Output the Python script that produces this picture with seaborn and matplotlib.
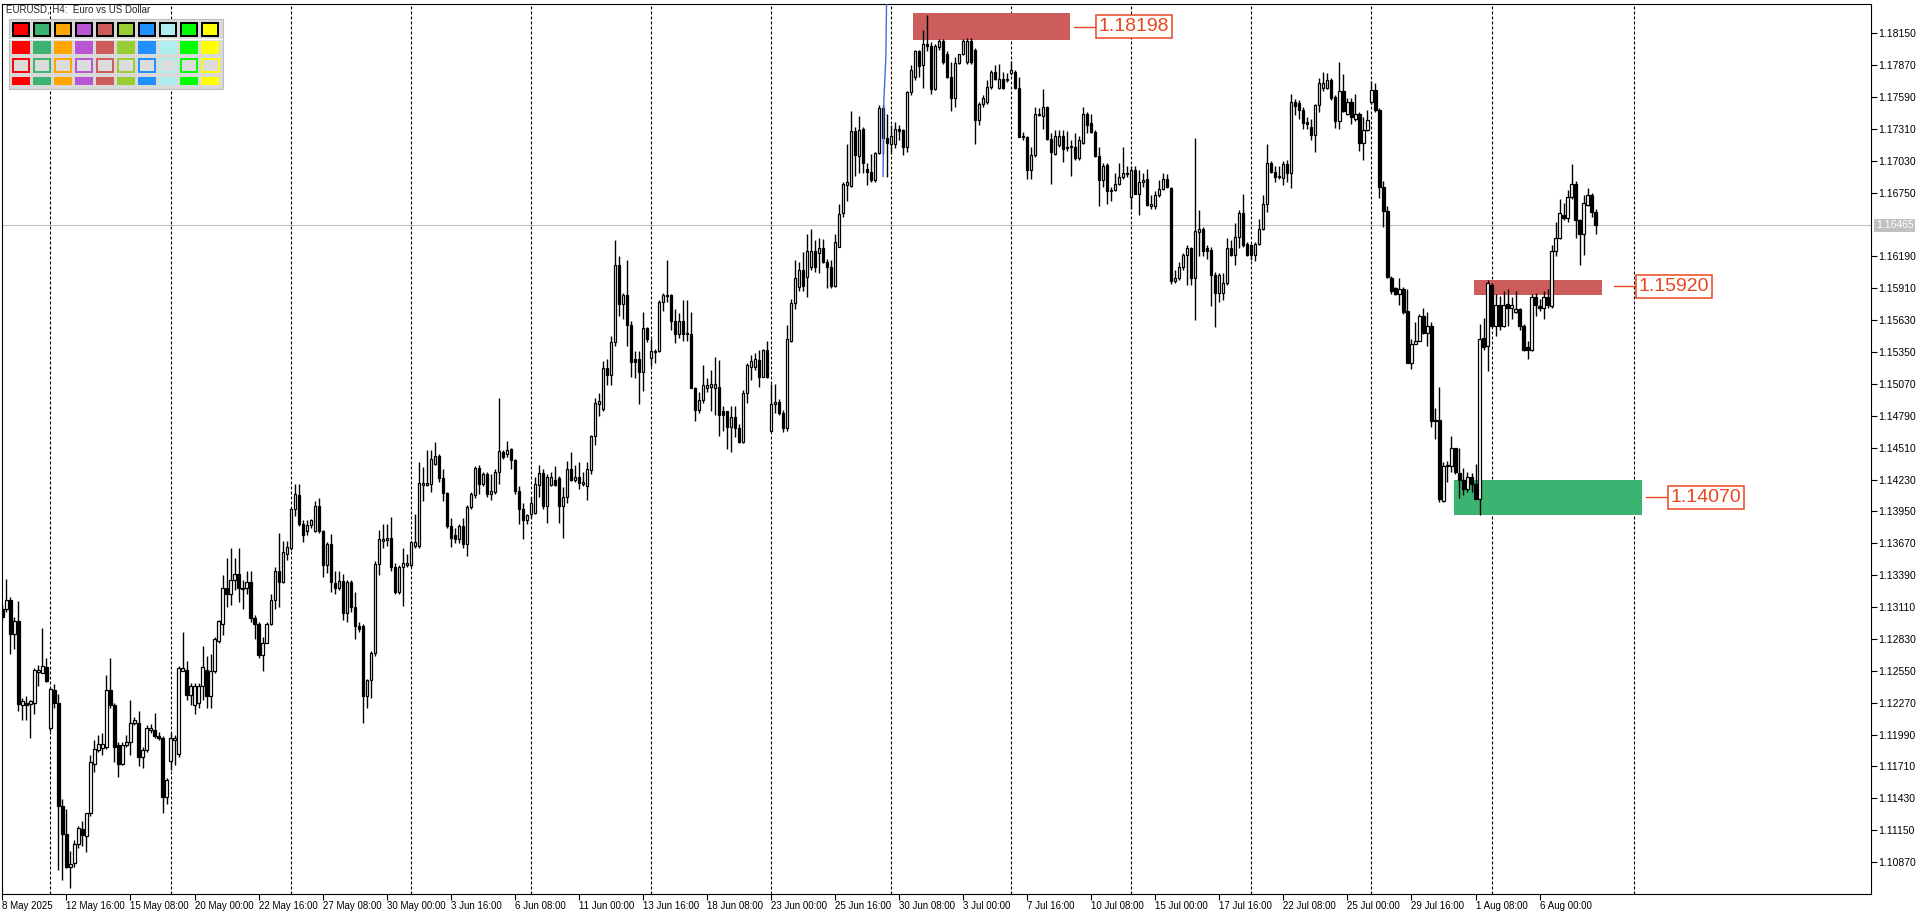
import numpy as np
import pandas as pd
import seaborn as sns
import matplotlib
matplotlib.use("Agg")
import matplotlib.pyplot as plt
import matplotlib.transforms as mtransforms
from matplotlib.patches import Rectangle

sns.set_theme(style="white")
plt.rcParams['font.family'] = ['Liberation Sans', 'DejaVu Sans']

# EURUSD H4 candles, 8 May 2025 00:00 -> 8 Aug 2025 (prices in 1/10000)
open_pips = [
    11309, 11309, 11317, 11287, 11299, 11225, 11227, 11226, 11227, 11254,
    11253, 11258, 11205, 11238, 11227, 11136, 11112, 11083, 11086, 11103,
    11116, 11110, 11130, 11173, 11185, 11187, 11188, 11238, 11225, 11190,
    11173, 11190, 11192, 11209, 11209, 11179, 11185, 11203, 11203, 11198,
    11196, 11144, 11176, 11194, 11182, 11255, 11256, 11234, 11225, 11227,
    11242, 11256, 11233, 11255, 11281, 11296, 11328, 11322, 11335, 11340,
    11328, 11328, 11333, 11301, 11296, 11269, 11279, 11296, 11317, 11343,
    11333, 11358, 11363, 11397, 11409, 11384, 11378, 11383, 11378, 11400,
    11378, 11348, 11366, 11332, 11328, 11334, 11306, 11333, 11311, 11294,
    11294, 11233, 11247, 11271, 11349, 11369, 11370, 11372, 11346, 11324,
    11346, 11348, 11348, 11365, 11365, 11418, 11418, 11419, 11437, 11444,
    11424, 11411, 11382, 11374, 11371, 11382, 11366, 11399, 11409, 11433,
    11419, 11428, 11410, 11412, 11430, 11447, 11445, 11450, 11440, 11413,
    11397, 11387, 11393, 11394, 11418, 11429, 11400, 11418, 11423, 11424,
    11400, 11408, 11432, 11423, 11425, 11419, 11417, 11431, 11461, 11489,
    11485, 11521, 11515, 11544, 11611, 11577, 11585, 11559, 11529, 11529,
    11517, 11556, 11530, 11535, 11536, 11579, 11584, 11585, 11562, 11551,
    11562, 11551, 11551, 11503, 11484, 11493, 11503, 11504, 11503, 11504,
    11483, 11483, 11469, 11478, 11468, 11456, 11499, 11522, 11522, 11528,
    11513, 11537, 11466, 11489, 11491, 11481, 11468, 11545, 11578, 11592,
    11607, 11601, 11610, 11624, 11622, 11626, 11614, 11610, 11593, 11627,
    11657, 11682, 11681, 11729, 11707, 11731, 11696, 11693, 11686, 11710,
    11749, 11723, 11718, 11718, 11731, 11730, 11715, 11763, 11777, 11799,
    11787, 11806, 11804, 11766, 11803, 11808, 11797, 11777, 11758, 11789,
    11797, 11790, 11808, 11800, 11739, 11753, 11755, 11768, 11781, 11767,
    11775, 11775, 11780, 11781, 11767, 11725, 11724, 11695, 11708, 11744,
    11742, 11750, 11722, 11709, 11717, 11725, 11714, 11715, 11715, 11705,
    11719, 11744, 11736, 11728, 11707, 11686, 11699, 11677, 11677, 11683,
    11689, 11692, 11671, 11695, 11674, 11684, 11687, 11663, 11663, 11673,
    11678, 11687, 11679, 11597, 11600, 11610, 11620, 11626, 11600, 11640,
    11643, 11626, 11625, 11603, 11587, 11587, 11596, 11626, 11620, 11636,
    11657, 11630, 11629, 11620, 11630, 11643, 11665, 11701, 11693, 11689,
    11688, 11700, 11692, 11755, 11754, 11748, 11737, 11733, 11726, 11752,
    11767, 11767, 11774, 11759, 11738, 11764, 11744, 11755, 11740, 11744,
    11719, 11730, 11755, 11765, 11748, 11680, 11659, 11600, 11591, 11586,
    11590, 11571, 11525, 11542, 11545, 11567, 11552, 11558, 11475, 11475,
    11404, 11435, 11435, 11451, 11429, 11423, 11415, 11425, 11419, 11406,
    11547, 11540, 11594, 11558, 11576, 11558, 11577, 11574, 11570, 11573,
    11558, 11539, 11537, 11583, 11575, 11574, 11583, 11575, 11624, 11635,
    11655, 11653, 11671, 11683, 11651, 11639, 11664, 11673, 11658,
]
high_pips = [
    11313, 11336, 11320, 11302, 11316, 11231, 11233, 11229, 11257, 11260,
    11293, 11266, 11240, 11243, 11235, 11142, 11134, 11097, 11106, 11119,
    11123, 11130, 11181, 11194, 11199, 11200, 11251, 11266, 11227, 11192,
    11192, 11199, 11229, 11214, 11220, 11188, 11207, 11208, 11218, 11201,
    11198, 11161, 11200, 11199, 11259, 11289, 11264, 11244, 11244, 11244,
    11277, 11268, 11270, 11285, 11300, 11339, 11354, 11363, 11354, 11363,
    11335, 11343, 11343, 11304, 11298, 11285, 11298, 11322, 11346, 11376,
    11369, 11369, 11398, 11419, 11419, 11387, 11387, 11388, 11404, 11407,
    11379, 11368, 11375, 11343, 11343, 11340, 11335, 11335, 11324, 11298,
    11296, 11248, 11272, 11351, 11379, 11384, 11384, 11390, 11350, 11348,
    11363, 11358, 11369, 11393, 11438, 11434, 11449, 11449, 11456, 11445,
    11432, 11412, 11389, 11380, 11384, 11389, 11401, 11412, 11435, 11436,
    11430, 11430, 11428, 11432, 11495, 11449, 11457, 11451, 11441, 11417,
    11402, 11393, 11408, 11425, 11436, 11432, 11428, 11430, 11435, 11426,
    11416, 11439, 11447, 11436, 11438, 11430, 11438, 11462, 11495, 11499,
    11527, 11529, 11549, 11633, 11619, 11587, 11616, 11562, 11536, 11536,
    11570, 11557, 11546, 11538, 11581, 11587, 11616, 11586, 11573, 11569,
    11581, 11581, 11570, 11504, 11500, 11524, 11512, 11519, 11531, 11528,
    11488, 11483, 11488, 11488, 11472, 11502, 11525, 11532, 11534, 11537,
    11538, 11545, 11507, 11507, 11494, 11484, 11559, 11582, 11616, 11614,
    11623, 11639, 11643, 11633, 11635, 11634, 11617, 11616, 11639, 11665,
    11684, 11718, 11747, 11733, 11742, 11733, 11701, 11709, 11711, 11752,
    11752, 11744, 11734, 11737, 11734, 11731, 11764, 11787, 11800, 11800,
    11818, 11831, 11807, 11806, 11810, 11810, 11799, 11790, 11794, 11797,
    11810, 11811, 11811, 11802, 11755, 11761, 11774, 11783, 11787, 11788,
    11781, 11780, 11791, 11783, 11777, 11728, 11725, 11715, 11750, 11749,
    11766, 11751, 11727, 11730, 11730, 11730, 11729, 11721, 11727, 11725,
    11750, 11746, 11744, 11730, 11715, 11701, 11701, 11680, 11692, 11701,
    11715, 11698, 11698, 11698, 11695, 11692, 11696, 11673, 11676, 11686,
    11692, 11691, 11680, 11607, 11614, 11622, 11629, 11627, 11723, 11660,
    11645, 11629, 11627, 11605, 11604, 11604, 11635, 11633, 11648, 11660,
    11674, 11632, 11630, 11632, 11652, 11673, 11718, 11703, 11698, 11698,
    11703, 11704, 11762, 11757, 11756, 11750, 11741, 11740, 11753, 11776,
    11781, 11780, 11776, 11761, 11790, 11779, 11758, 11758, 11762, 11746,
    11741, 11748, 11773, 11771, 11749, 11685, 11663, 11602, 11592, 11600,
    11592, 11590, 11546, 11561, 11568, 11574, 11570, 11561, 11486, 11504,
    11438, 11439, 11461, 11451, 11451, 11433, 11430, 11429, 11437, 11560,
    11565, 11598, 11596, 11586, 11584, 11589, 11590, 11583, 11589, 11574,
    11560, 11545, 11586, 11587, 11582, 11589, 11590, 11629, 11649, 11669,
    11666, 11677, 11700, 11685, 11652, 11673, 11679, 11675, 11661,
]
low_pips = [
    11300, 11307, 11270, 11274, 11220, 11212, 11212, 11196, 11217, 11242,
    11253, 11245, 11202, 11222, 11080, 11071, 11082, 11064, 11083, 11099,
    11101, 11096, 11127, 11166, 11184, 11181, 11186, 11222, 11175, 11162,
    11172, 11188, 11181, 11207, 11171, 11170, 11184, 11200, 11196, 11194,
    11130, 11138, 11168, 11172, 11179, 11255, 11229, 11225, 11217, 11222,
    11229, 11222, 11222, 11253, 11279, 11286, 11311, 11313, 11326, 11315,
    11309, 11322, 11298, 11283, 11266, 11255, 11279, 11295, 11309, 11311,
    11332, 11352, 11361, 11391, 11382, 11368, 11374, 11380, 11377, 11376,
    11337, 11341, 11324, 11322, 11326, 11300, 11298, 11307, 11283, 11289,
    11209, 11222, 11231, 11268, 11339, 11363, 11365, 11343, 11322, 11322,
    11312, 11346, 11346, 11363, 11363, 11404, 11417, 11412, 11436, 11421,
    11404, 11380, 11364, 11367, 11367, 11363, 11356, 11397, 11407, 11410,
    11417, 11408, 11405, 11410, 11419, 11441, 11443, 11432, 11410, 11384,
    11371, 11384, 11389, 11393, 11408, 11397, 11385, 11417, 11417, 11385,
    11372, 11402, 11422, 11421, 11415, 11417, 11405, 11428, 11453, 11479,
    11483, 11506, 11506, 11540, 11567, 11564, 11540, 11513, 11512, 11489,
    11501, 11544, 11523, 11525, 11535, 11571, 11579, 11554, 11543, 11547,
    11545, 11545, 11503, 11474, 11481, 11490, 11500, 11483, 11480, 11461,
    11466, 11450, 11447, 11460, 11455, 11455, 11490, 11510, 11519, 11504,
    11513, 11512, 11465, 11481, 11480, 11465, 11466, 11544, 11573, 11589,
    11589, 11583, 11607, 11605, 11604, 11613, 11591, 11591, 11592, 11627,
    11654, 11668, 11680, 11690, 11692, 11692, 11682, 11684, 11684, 11709,
    11709, 11689, 11709, 11714, 11721, 11708, 11711, 11761, 11774, 11777,
    11767, 11799, 11762, 11765, 11800, 11788, 11776, 11747, 11750, 11788,
    11796, 11788, 11788, 11718, 11734, 11750, 11753, 11766, 11774, 11766,
    11766, 11772, 11778, 11766, 11724, 11721, 11687, 11687, 11706, 11742,
    11731, 11721, 11683, 11708, 11715, 11702, 11712, 11690, 11704, 11704,
    11718, 11727, 11727, 11706, 11663, 11680, 11665, 11668, 11676, 11682,
    11687, 11689, 11661, 11674, 11655, 11680, 11663, 11661, 11661, 11671,
    11677, 11679, 11595, 11596, 11598, 11607, 11594, 11594, 11563, 11619,
    11619, 11617, 11575, 11557, 11579, 11581, 11594, 11619, 11611, 11626,
    11627, 11619, 11616, 11615, 11629, 11642, 11658, 11692, 11684, 11687,
    11682, 11684, 11679, 11743, 11740, 11731, 11731, 11721, 11711, 11746,
    11764, 11766, 11756, 11732, 11731, 11746, 11743, 11735, 11738, 11712,
    11704, 11729, 11753, 11746, 11670, 11645, 11600, 11586, 11585, 11576,
    11568, 11525, 11520, 11542, 11545, 11551, 11540, 11469, 11459, 11403,
    11403, 11421, 11430, 11428, 11407, 11409, 11412, 11412, 11406, 11392,
    11537, 11518, 11557, 11549, 11554, 11557, 11558, 11564, 11569, 11554,
    11536, 11529, 11536, 11567, 11571, 11564, 11574, 11574, 11619, 11634,
    11651, 11649, 11669, 11635, 11611, 11620, 11663, 11654, 11639,
]
close_pips = [
    11302, 11317, 11287, 11299, 11226, 11228, 11225, 11228, 11256, 11256,
    11259, 11246, 11239, 11227, 11136, 11112, 11083, 11085, 11103, 11117,
    11111, 11130, 11175, 11186, 11191, 11191, 11238, 11225, 11188, 11173,
    11190, 11192, 11209, 11212, 11179, 11185, 11205, 11205, 11198, 11196,
    11144, 11159, 11196, 11196, 11257, 11257, 11234, 11242, 11242, 11242,
    11258, 11233, 11255, 11283, 11299, 11328, 11322, 11335, 11340, 11328,
    11327, 11333, 11301, 11296, 11269, 11279, 11296, 11317, 11343, 11333,
    11359, 11364, 11397, 11410, 11384, 11374, 11383, 11387, 11400, 11378,
    11348, 11366, 11333, 11328, 11334, 11306, 11333, 11311, 11294, 11292,
    11233, 11247, 11271, 11349, 11371, 11371, 11372, 11346, 11324, 11346,
    11350, 11350, 11368, 11368, 11420, 11420, 11420, 11441, 11444, 11424,
    11411, 11382, 11372, 11371, 11382, 11366, 11399, 11410, 11433, 11419,
    11428, 11410, 11413, 11430, 11448, 11443, 11449, 11440, 11413, 11397,
    11387, 11392, 11402, 11419, 11429, 11400, 11425, 11425, 11418, 11400,
    11408, 11432, 11423, 11425, 11420, 11421, 11432, 11461, 11490, 11492,
    11521, 11515, 11544, 11611, 11577, 11585, 11559, 11526, 11526, 11517,
    11556, 11546, 11536, 11536, 11579, 11585, 11585, 11562, 11551, 11562,
    11551, 11552, 11503, 11484, 11493, 11506, 11506, 11507, 11507, 11480,
    11480, 11469, 11478, 11468, 11456, 11499, 11524, 11527, 11529, 11513,
    11537, 11513, 11489, 11491, 11481, 11468, 11546, 11578, 11600, 11607,
    11593, 11624, 11624, 11610, 11626, 11614, 11610, 11593, 11632, 11656,
    11683, 11684, 11729, 11708, 11730, 11701, 11693, 11686, 11710, 11749,
    11723, 11719, 11725, 11731, 11729, 11715, 11763, 11783, 11799, 11786,
    11806, 11804, 11766, 11804, 11808, 11790, 11777, 11758, 11789, 11797,
    11808, 11808, 11790, 11739, 11753, 11758, 11768, 11781, 11775, 11775,
    11767, 11774, 11783, 11767, 11724, 11724, 11695, 11708, 11744, 11743,
    11750, 11722, 11711, 11725, 11725, 11713, 11715, 11716, 11705, 11721,
    11744, 11734, 11728, 11707, 11686, 11698, 11676, 11676, 11683, 11689,
    11692, 11691, 11695, 11674, 11684, 11686, 11664, 11665, 11673, 11678,
    11687, 11680, 11597, 11600, 11610, 11620, 11626, 11600, 11641, 11643,
    11624, 11624, 11603, 11587, 11603, 11596, 11626, 11620, 11636, 11657,
    11629, 11620, 11620, 11630, 11643, 11665, 11701, 11693, 11689, 11690,
    11700, 11692, 11755, 11751, 11748, 11736, 11735, 11726, 11752, 11771,
    11771, 11774, 11758, 11738, 11764, 11747, 11755, 11741, 11744, 11719,
    11730, 11739, 11765, 11748, 11680, 11659, 11601, 11589, 11586, 11590,
    11570, 11525, 11542, 11545, 11567, 11552, 11558, 11474, 11474, 11406,
    11435, 11436, 11451, 11430, 11423, 11415, 11425, 11419, 11406, 11546,
    11539, 11596, 11558, 11576, 11558, 11576, 11574, 11576, 11573, 11558,
    11537, 11537, 11583, 11576, 11574, 11583, 11576, 11624, 11635, 11657,
    11653, 11671, 11683, 11651, 11639, 11666, 11673, 11658, 11647,
]

current_price = 1.16465

# x axis labels, one every 16 bars
tick_labels = [
    "8 May 2025", "12 May 16:00", "15 May 08:00", "20 May 00:00", "22 May 16:00",
    "27 May 08:00", "30 May 00:00", "3 Jun 16:00", "6 Jun 08:00", "11 Jun 00:00",
    "13 Jun 16:00", "18 Jun 08:00", "23 Jun 00:00", "25 Jun 16:00", "30 Jun 08:00",
    "3 Jul 00:00", "7 Jul 16:00", "10 Jul 08:00", "15 Jul 00:00", "17 Jul 16:00",
    "22 Jul 08:00", "25 Jul 00:00", "29 Jul 16:00", "1 Aug 08:00", "6 Aug 00:00",
]
# week separators (bar index of monday 00:00)
week_bars = [12, 42, 72, 102, 132, 162, 192, 222, 252, 282, 312, 342, 372, 407.5]

# supply / demand zones
zone_start = [227.6, 367.6, 362.6]
zone_end = [266.8, 399.6, 409.6]
zone_low = [1.18090, 1.15847, 1.13922]
zone_high = [1.18325, 1.15985, 1.14222]
zone_label = ["1.18198", "1.15920", "1.14070"]
zone_color = ["#CD5C5C", "#CD5C5C", "#3CB371"]
label_x = [273.2, 408.1, 416.1]
label_y = [1.18207, 1.15929, 1.14075]

# blue indicator line near the top
blue_x = [220.0, 220.2, 220.7, 220.9]
blue_y = [1.1689, 1.1756, 1.1794, 1.1850]

panel_colors = ["#FF0000", "#3CB371", "#FFA500", "#BA55D3", "#CD5C5C",
                "#9ACD32", "#1E90FF", "#AFEEEE", "#00FF00", "#FFFF00"]

df = pd.DataFrame({
    "open": np.array(open_pips) / 10000,
    "high": np.array(high_pips) / 10000,
    "low": np.array(low_pips) / 10000,
    "close": np.array(close_pips) / 10000,
})
df["bar"] = np.arange(len(df))
up = df["close"] >= df["open"]

fig = plt.figure(figsize=(19.2, 9.15), dpi=100)
ax = fig.add_axes([2 / 1920, 21 / 915, 1869 / 1920, 890 / 915])
ax.set_facecolor("white")

# week separators and current price line
for b in week_bars:
    ax.axvline(b, color="black", lw=0.8, ls=(0, (2.7, 1.8)), zorder=1)
ax.axhline(current_price, color="#c0c0c0", lw=0.8, zorder=1.5)

# zones
for s, e, lo, hi, col in zip(zone_start, zone_end, zone_low, zone_high, zone_color):
    ax.add_patch(Rectangle((s, lo), e - s, hi - lo, facecolor=col, edgecolor="none", zorder=2))

# candles
ax.vlines(df["bar"], df["low"], df["high"], color="black", lw=1.0, zorder=3)
body = (df["close"] - df["open"]).to_numpy()
body = np.where(np.abs(body) < 0.00002, 0.00002, body)
ax.bar(df["bar"], body, bottom=df["open"], width=0.55,
       color=np.where(up, "white", "black"), edgecolor="black", linewidth=0.9, zorder=4)

sns.lineplot(x=blue_x, y=blue_y, ax=ax, color="#4169E1", lw=1, sort=False, zorder=5)

# zone labels
lab_col = "#E8461E"
for e, lx, ly, txt in zip(zone_end, label_x, label_y, zone_label):
    ax.plot([lx - 5.5, lx], [ly, ly], color=lab_col, lw=1, zorder=6)
    ax.text(lx + 0.6, ly, txt, fontsize=14, color=lab_col, ha="left", va="center",
            zorder=7, bbox=dict(boxstyle="square,pad=0.15", fc="white", ec=lab_col, lw=1.1))

ax.set_xlim(-0.1, 466.8)
ax.set_ylim(1.10589, 1.18407)

# axes and ticks
yt = [1.10870 + 0.0028 * k for k in range(27) if k != 20]
ax.yaxis.tick_right()
ax.set_yticks(yt)
ax.set_yticklabels([f"{v:.5f}" for v in yt])
ax.set_xticks(np.arange(0, 16 * len(tick_labels), 16))
ax.set_xticklabels(tick_labels, ha="left")
ax.tick_params(axis="y", direction="out", length=4, width=0.8, pad=1.5, labelsize=7.5,
               colors="black", right=True, left=False)
ax.tick_params(axis="x", direction="out", length=4, width=0.8, pad=1, labelsize=7,
               colors="black", bottom=True)
for sp in ax.spines.values():
    sp.set_visible(True)
    sp.set_color("black")
    sp.set_linewidth(0.8)
ax.grid(False)

trans = mtransforms.blended_transform_factory(ax.transAxes, ax.transData)
ax.text(1.0 + 5 / 1869, current_price, f"{current_price:.5f}", transform=trans,
        fontsize=7.5, color="white", ha="left", va="center",
        bbox=dict(boxstyle="square,pad=0.15", fc="#c0c0c0", ec="none"), clip_on=False)

# overlay for title and colour panel (pixel coordinates)
ov = fig.add_axes([0, 0, 1, 1])
ov.set_xlim(0, 1920)
ov.set_ylim(915, 0)
ov.axis("off")
ov.patch.set_alpha(0)
ov.set_zorder(10)
ov.text(6, 9.5, "EURUSD, H4:  Euro vs US Dollar", fontsize=7, ha="left", va="center")
ov.add_patch(Rectangle((8.5, 18.5), 214, 70, fc="#d9d9d9", ec="#bdbdbd", lw=0.8))
ov.plot([9, 222], [38.7, 38.7], color="white", lw=1)
for c, col in enumerate(panel_colors):
    x0 = 11.7 + 21.07 * c
    ov.add_patch(Rectangle((x0 + 0.8, 22.5), 16.2, 13.5, fc=col, ec="black", lw=1.4))
    ov.add_patch(Rectangle((x0, 40.7), 18, 13.6, fc=col, ec="none"))
    ov.add_patch(Rectangle((x0 + 0.8, 59.1), 16.4, 12.4, fc="#dcdcdc", ec=col, lw=1.4))
    ov.add_patch(Rectangle((x0, 76.7), 18, 8.3, fc=col, ec="none"))

fig.savefig("out.png", dpi=100)
